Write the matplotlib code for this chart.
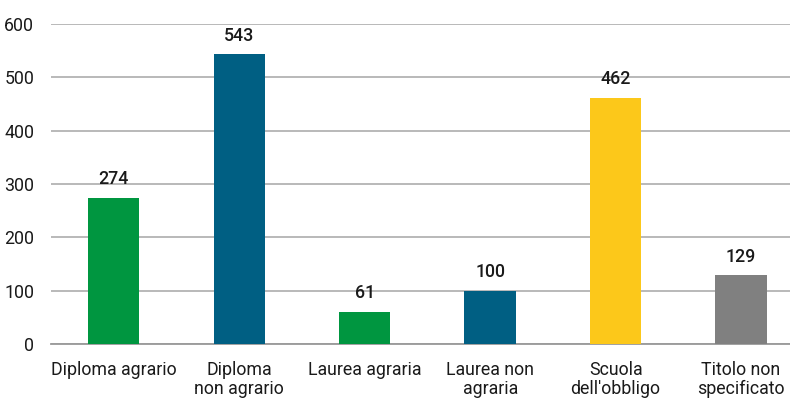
import matplotlib.pyplot as plt

plt.rcParams["font.family"] = ["Roboto", "DejaVu Sans"]

# Data
categories = ["Diploma agrario", "Diploma\nnon agrario", "Laurea agraria",
              "Laurea non\nagraria", "Scuola\ndell'obbligo", "Titolo non\nspecificato"]
values = [274, 543, 61, 100, 462, 129]
colors = ["#009640", "#005F83", "#009640", "#005F83", "#FCC81A", "#808080"]

fig = plt.figure(figsize=(7.9, 4.01), dpi=100)
ax = fig.add_axes([0.0646, 0.142, 0.9354, 0.798])

x = range(len(categories))
bars = ax.bar(x, values, width=0.41, color=colors, zorder=3)

for xi, v in zip(x, values):
    ax.annotate(str(v), (xi, v), xytext=(0, 7), textcoords="offset points",
                ha="center", va="bottom", fontsize=12.8, fontweight="medium",
                color="#1a1a1a")

ax.set_ylim(0, 600)
ax.set_xlim(-0.5, 5.39)
ax.set_yticks(range(0, 601, 100))
ax.set_xticks(list(x))
ax.set_xticklabels(categories, linespacing=1.1)
ax.yaxis.grid(True, color="#b3b3b3", linewidth=1.3, zorder=0)
ax.set_axisbelow(True)

for s in ["top", "right", "left"]:
    ax.spines[s].set_visible(False)
ax.spines["bottom"].set_color("#999999")
ax.spines["bottom"].set_linewidth(1.3)

ax.tick_params(axis="both", length=0, labelsize=12.8, colors="#1a1a1a")
ax.tick_params(axis="y", pad=12)
ax.tick_params(axis="x", pad=12)

plt.savefig("out.png", dpi=100)
